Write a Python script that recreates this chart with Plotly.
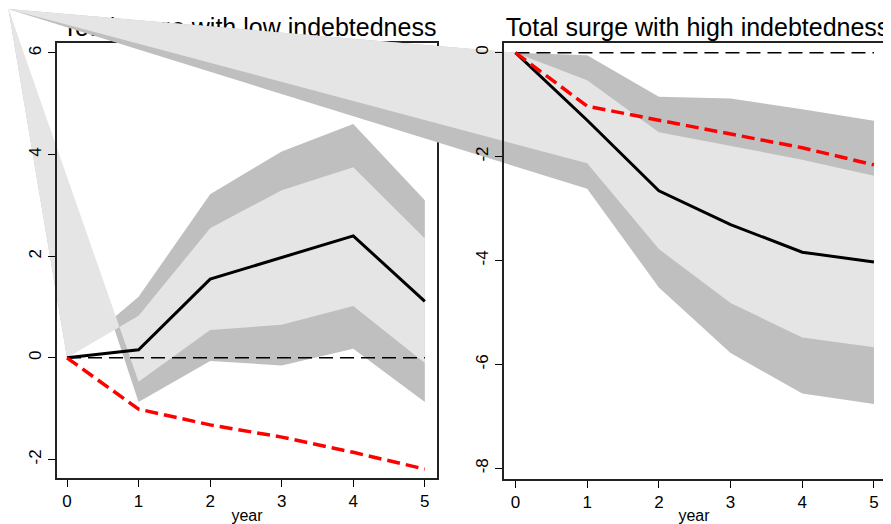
import plotly.graph_objects as go

# impulse responses, years after the surge
years = [0, 1, 2, 3, 4, 5]

low_total = [0, 0.16, 1.55, 1.97, 2.40, 1.11]
low_red = [0, -1.01, -1.32, -1.56, -1.86, -2.19]
low_outer_up = [0, 1.20, 3.22, 4.06, 4.60, 3.10]
low_outer_lo = [-0.87, -0.06, -0.15, 0.18, -0.87]   # years 1..5
low_inner_up = [0, 0.83, 2.55, 3.30, 3.75, 2.35]
low_inner_lo = [-0.47, 0.55, 0.65, 1.02, -0.10]     # years 1..5

high_total = [0, -1.30, -2.66, -3.31, -3.84, -4.03]
high_red = [0, -1.03, -1.30, -1.56, -1.83, -2.16]
high_outer_up = [0, -0.05, -0.85, -0.88, -1.09, -1.31]
high_outer_lo = [-2.62, -4.52, -5.78, -6.56, -6.76]   # years 1..5
high_inner_up = [0, -0.53, -1.53, -1.79, -2.06, -2.37]
high_inner_lo = [-2.13, -3.78, -4.82, -5.48, -5.67]   # years 1..5

low_yticks = [-2, 0, 2, 4, 6]
high_yticks = [-8, -6, -4, -2, 0]

# the band polygons in the source close on a stray vertex (broken render)
low_stray = (-0.82, 6.87)
high_stray = (-7.08, 0.84)

# page has an 8px body margin, so the figure is a bit smaller than the window
W, H = 883, 516
LIGHT = "#e5e5e5"
DARK = "#bfbfbf"
FONT = "Liberation Sans, Arial, sans-serif"

# panel boxes (paper fractions) and axis ranges
left_xdom = [49 / W, 429 / W]
left_ydom = [1 - 473 / H, 1 - 35 / H]
left_xr = [-0.14, 5.17]
left_yr = [-2.37, 6.20]

right_xdom = [496 / W, 876 / W]
right_ydom = [1 - 474 / H, 1 - 35 / H]
right_xr = [-0.16, 5.14]
right_yr = [-8.21, 0.19]


def full_range(rng, dom):
    # same scale as the panel, stretched over the whole page
    span = (rng[1] - rng[0]) / (dom[1] - dom[0])
    lo = rng[0] - dom[0] * span
    return [lo, lo + span]


def band(up, lo, stray):
    xs = years + years[:0:-1] + [stray[0]]
    ys = up + lo[::-1] + [stray[1]]
    return xs, ys


fig = go.Figure()


def add_bands(xa, ya, outer_up, outer_lo, inner_up, inner_lo, stray, title, title_x, title_y):
    # title goes first so the stray wedge of the next panel can cover it
    fig.add_trace(go.Scatter(x=[title_x], y=[title_y], xaxis=xa, yaxis=ya, mode="text",
                             text=[title], textposition="middle center",
                             textfont=dict(family=FONT, size=25, color="black"),
                             hoverinfo="skip", showlegend=False))
    for up, lo, col in [(outer_up, outer_lo, DARK), (inner_up, inner_lo, LIGHT)]:
        bx, by = band(up, lo, stray)
        fig.add_trace(go.Scatter(x=bx, y=by, xaxis=xa, yaxis=ya, mode="lines",
                                 fill="toself", fillcolor=col, line=dict(width=0),
                                 hoverinfo="skip", showlegend=False))


def add_lines(xa, ya, total, red):
    fig.add_trace(go.Scatter(x=[0, 5], y=[0, 0], xaxis=xa, yaxis=ya, mode="lines",
                             line=dict(color="black", width=1.5, dash="14px,7px"),
                             hoverinfo="skip", showlegend=False))
    fig.add_trace(go.Scatter(x=years, y=total, xaxis=xa, yaxis=ya, mode="lines",
                             line=dict(color="black", width=3),
                             showlegend=False))
    fig.add_trace(go.Scatter(x=years, y=red, xaxis=xa, yaxis=ya, mode="lines",
                             line=dict(color="#ff0000", width=3.5, dash="13px,6px"),
                             showlegend=False))


# layer order: left bands, left panel, right bands, right panel
add_bands("x", "y", low_outer_up, low_outer_lo, low_inner_up, low_inner_lo, low_stray,
          "Total surge with low indebtedness", 2.55, 6.46)
add_lines("x2", "y2", low_total, low_red)
add_bands("x3", "y3", high_outer_up, high_outer_lo, high_inner_up, high_inner_lo, high_stray,
          "Total surge with high indebtedness", 2.54, 0.44)
add_lines("x4", "y4", high_total, high_red)

hidden = dict(domain=[0, 1], visible=False, showgrid=False, zeroline=False)

panel_x = dict(tickvals=years, ticks="outside", ticklen=7, tickwidth=1, tickcolor="black",
               showline=True, linecolor="#222222", linewidth=1.5, mirror=True,
               showgrid=False, zeroline=False,
               tickfont=dict(family=FONT, size=17, color="black"),
               title=dict(text="year", font=dict(family=FONT, size=16, color="black"), standoff=0))
panel_y = dict(ticks="outside", ticklen=7, tickwidth=1, tickcolor="black", tickangle=-90,
               showline=True, linecolor="#222222", linewidth=1.5, mirror=True,
               showgrid=False, zeroline=False,
               tickfont=dict(family=FONT, size=17, color="black"))

fig.update_layout(
    width=W, height=H,
    margin=dict(l=0, r=0, t=0, b=0),
    paper_bgcolor="white",
    plot_bgcolor="rgba(0,0,0,0)",
    showlegend=False,
    xaxis=dict(hidden, range=full_range(left_xr, left_xdom), anchor="y"),
    yaxis=dict(hidden, range=full_range(left_yr, left_ydom), anchor="x"),
    xaxis2=dict(panel_x, domain=left_xdom, range=left_xr, anchor="y2"),
    yaxis2=dict(panel_y, domain=left_ydom, range=left_yr, anchor="x2",
                tickvals=low_yticks, ticktext=[str(v) for v in low_yticks]),
    xaxis3=dict(hidden, range=full_range(right_xr, right_xdom), anchor="y3"),
    yaxis3=dict(hidden, range=full_range(right_yr, right_ydom), anchor="x3"),
    xaxis4=dict(panel_x, domain=right_xdom, range=right_xr, anchor="y4"),
    yaxis4=dict(panel_y, domain=right_ydom, range=right_yr, anchor="x4",
                tickvals=high_yticks, ticktext=[str(v) for v in high_yticks]),
)

fig.write_html("out.html")
